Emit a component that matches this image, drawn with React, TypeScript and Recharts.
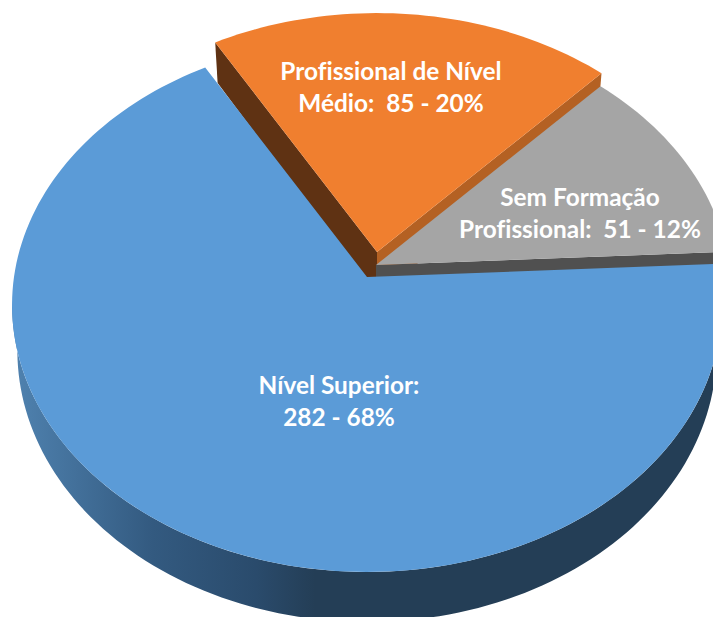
import React from "react";
import { PieChart, Pie } from "recharts";

const categories = ["Profissional de Nível Médio", "Sem Formação Profissional", "Nível Superior"];
const counts = [85, 51, 282];
const labelLines = [
  ["Profissional de Nível", "Médio:  85 - 20%"],
  ["Sem Formação", "Profissional:  51 - 12%"],
  ["Nível Superior:", "282 - 68%"],
];
const tableData = categories.map((name, i) => ({ name, value: counts[i] }));

const W = 713;
const H = 617;
const APEX_X = 367;
const APEX_Y = 277;
const RADIUS = 264;
const ASPECT = 353 / 264;
const PERSPECTIVE = 0.105;

const EXPLODE = [
  { dx: 10, dy: -25 },
  { dx: 9, dy: -12 },
  { dx: 0, dy: 0 },
];
const TOP_FILL = ["#f07f2f", "#a5a5a5", "#5b9bd7"];
const LABEL_POS = [
  { x: 391, y: 80 },
  { x: 580, y: 206 },
  { x: 339, y: 394 },
];

const rad = (d: number) => (d * Math.PI) / 180;

function project(cx: number, cy: number, r: number, deg: number, t: number, depth: number) {
  const c = Math.cos(rad(deg)) * t;
  const s = Math.sin(rad(deg)) * t;
  const w = 1 + PERSPECTIVE * s;
  const d = depth * (45 - 5 * s);
  const shrink = 1 - 0.015 * depth;
  return {
    x: cx + (r * ASPECT * c * shrink) / w,
    y: cy - (r * s) / w + d,
  };
}

function toPath(pts: { x: number; y: number }[], ox: number, oy: number) {
  return pts.map((p, i) => `${i ? "L" : "M"}${(p.x + ox).toFixed(2)},${(p.y + oy).toFixed(2)}`).join(" ") + " Z";
}

function arc(cx: number, cy: number, r: number, a: number, b: number, depth: number) {
  const n = Math.max(2, Math.ceil(Math.abs(b - a) / 1.5));
  const pts = [];
  for (let i = 0; i <= n; i++) pts.push(project(cx, cy, r, a + ((b - a) * i) / n, 1, depth));
  return pts;
}

function radialWall(cx: number, cy: number, r: number, a: number) {
  return [
    project(cx, cy, r, a, 0, 0),
    project(cx, cy, r, a, 1, 0),
    project(cx, cy, r, a, 1, 1),
    project(cx, cy, r, a, 0, 1),
  ];
}

function Slice3D(props: any) {
  const { cx, cy, outerRadius: r, startAngle, endAngle, index } = props;
  const { dx, dy } = EXPLODE[index];
  const top = [project(cx, cy, r, 0, 0, 0), ...arc(cx, cy, r, startAngle, endAngle, 0)];
  return (
    <g>
      {index === 0 && (
        <>
          <path d={toPath(radialWall(cx, cy, r, startAngle), dx, dy)} fill="#5f3213" />
          <path d={toPath(radialWall(cx, cy, r, endAngle), dx, dy)} fill="#b46123" />
        </>
      )}
      {index === 1 && <path d={toPath(radialWall(cx, cy, r, endAngle), dx, dy)} fill="#505050" />}
      {index === 2 && (
        <>
          <defs>
            <linearGradient id="blueWall" gradientUnits="userSpaceOnUse" x1="20" y1="0" x2="315" y2="0">
              <stop offset="0" stopColor="#4e80ad" />
              <stop offset="0.45" stopColor="#335a80" />
              <stop offset="0.8" stopColor="#2a4b6c" />
              <stop offset="1" stopColor="#243e56" />
            </linearGradient>
          </defs>
          <path
            d={toPath([...arc(cx, cy, r, -175, 3, 0), ...arc(cx, cy, r, 3, -175, 1)], dx, dy)}
            fill="url(#blueWall)"
          />
        </>
      )}
      <path d={toPath(top, dx, dy)} fill={TOP_FILL[index]} />
    </g>
  );
}

function SliceLabel(props: any) {
  const { index } = props;
  const pos = LABEL_POS[index];
  return (
    <text
      x={pos.x}
      y={pos.y}
      textAnchor="middle"
      fill="#ffffff"
      fontFamily="Lato, Carlito, sans-serif"
      fontWeight={700}
      fontSize={24.4}
      style={{ whiteSpace: "pre", fontVariantLigatures: "none" }}
    >
      <tspan x={pos.x}>{labelLines[index][0]}</tspan>
      <tspan x={pos.x} dy={32}>{labelLines[index][1]}</tspan>
    </text>
  );
}

export default function App() {
  return (
    <div style={{ position: "absolute", left: 0, top: 0, width: W, height: H, overflow: "hidden", background: "#fff" }}>
      <PieChart width={W} height={H} margin={{ top: 0, right: 0, bottom: 0, left: 0 }}>
        <Pie
          data={tableData}
          dataKey="value"
          nameKey="name"
          cx={APEX_X}
          cy={APEX_Y}
          innerRadius={0}
          outerRadius={RADIUS}
          startAngle={120}
          endAngle={-240}
          stroke="none"
          isAnimationActive={false}
          shape={Slice3D}
          label={SliceLabel}
          labelLine={false}
        />
      </PieChart>
    </div>
  );
}
